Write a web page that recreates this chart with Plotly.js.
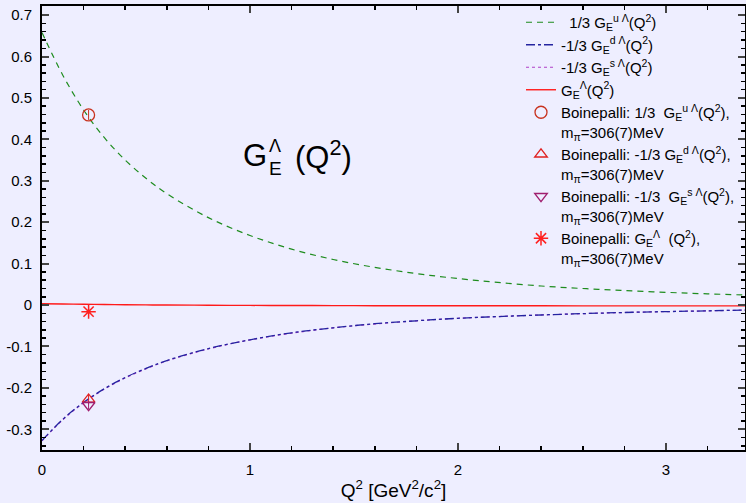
<!DOCTYPE html>
<html>
<head>
<meta charset="utf-8">
<script src="https://cdn.plot.ly/plotly-3.0.1.min.js"></script>
<style>html,body{margin:0;padding:0;background:#eeeeff;}#chart{width:746px;height:503px;}</style>
</head>
<body>
<div id="chart"></div>
<script>
// Q^2 grid [GeV^2/c^2]
var q2 = [0, 0.1, 0.2, 0.3, 0.4, 0.5, 0.6, 0.8, 1.0, 1.2, 1.4, 1.6, 1.8, 2.0, 2.4, 2.8, 3.2, 3.4];
// 1/3 G_E^{u Λ}
var gu = [0.658, 0.555, 0.471, 0.404, 0.350, 0.306, 0.269, 0.211, 0.168, 0.135, 0.110, 0.091, 0.076, 0.064, 0.046, 0.035, 0.027, 0.024];
// -1/3 G_E^{d Λ}
var gd = [-0.327, -0.276, -0.235, -0.202, -0.175, -0.153, -0.134, -0.105, -0.084, -0.067, -0.055, -0.045, -0.038, -0.032, -0.024, -0.018, -0.014, -0.012];
// -1/3 G_E^{s Λ}
var gs = [-0.328, -0.277, -0.236, -0.203, -0.176, -0.154, -0.135, -0.106, -0.084, -0.068, -0.055, -0.046, -0.038, -0.032, -0.024, -0.018, -0.014, -0.012];
// G_E^Λ
var gl = [0.0030, 0.0024, 0.0018, 0.0012, 0.0007, 0.0003, 0.0, -0.0005, -0.0009, -0.0012, -0.0014, -0.0016, -0.0017, -0.0018, -0.0019, -0.0020, -0.0020, -0.0020];

// Boinepalli lattice points (m_pi = 306(7) MeV)
var bq2 = [0.224];
var bU = [0.459], bUerr = [0.012];
var bD = [-0.228], bDerr = [0.012];
var bS = [-0.242], bSerr = [0.010];
var bL = [-0.016], bLerr = [0.012];

var yTicks = [-0.3, -0.2, -0.1, 0, 0.1, 0.2, 0.3, 0.4, 0.5, 0.6, 0.7];
var yTickText = ["-0.3", "-0.2", "-0.1", "0", "0.1", "0.2", "0.3", "0.4", "0.5", "0.6", "0.7"];
var xTicks = [0, 1, 2, 3];
var xTickText = ["0", "1", "2", "3"];

var nb = "\u00a0";
var names = [
  nb + nb + "1/3 G<sub>E</sub><sup>u Λ</sup>(Q<sup>2</sup>)",
  "-1/3 G<sub>E</sub><sup>d Λ</sup>(Q<sup>2</sup>)",
  "-1/3 G<sub>E</sub><sup>s Λ</sup>(Q<sup>2</sup>)",
  "G<sub>E</sub><sup>Λ</sup>(Q<sup>2</sup>)",
  "Boinepalli: 1/3" + nb + nb + "G<sub>E</sub><sup>u Λ</sup>(Q<sup>2</sup>),<br>m<sub>π</sub>=306(7)MeV",
  "Boinepalli: -1/3 G<sub>E</sub><sup>d Λ</sup>(Q<sup>2</sup>),<br>m<sub>π</sub>=306(7)MeV",
  "Boinepalli: -1/3" + nb + nb + "G<sub>E</sub><sup>s Λ</sup>(Q<sup>2</sup>),<br>m<sub>π</sub>=306(7)MeV",
  "Boinepalli: G<sub>E</sub><sup>Λ</sup>" + nb + nb + "(Q<sup>2</sup>),<br>m<sub>π</sub>=306(7)MeV"
];

var traces = [
  {x: q2, y: gu, mode: 'lines', name: names[0], legendrank: 1, line: {color: '#1e8c1e', width: 1.2, dash: '6px,5px', shape: 'spline'}},
  {x: q2, y: gs, mode: 'lines', name: names[2], legendrank: 3, line: {color: '#b040c8', width: 1.2, dash: 'dot', shape: 'spline'}},
  {x: q2, y: gd, mode: 'lines', name: names[1], legendrank: 2, line: {color: '#2424a0', width: 1.3, dash: 'dashdot', shape: 'spline'}},
  {x: q2, y: gl, mode: 'lines', name: names[3], legendrank: 4, line: {color: '#ff1a1a', width: 1.4, shape: 'spline'}},
  {x: bq2, y: bU, mode: 'markers', name: names[4], legendrank: 5, marker: {symbol: 'circle-open', size: 12, color: '#c8321e', line: {width: 1.3}},
   error_y: {type: 'data', array: bUerr, color: '#c8321e', thickness: 1, width: 0}},
  {x: bq2, y: bD, mode: 'markers', name: names[5], legendrank: 6, marker: {symbol: 'triangle-up-open', size: 11, color: '#e02020', line: {width: 1.3}},
   error_y: {type: 'data', array: bDerr, color: '#e02020', thickness: 1, width: 0}},
  {x: bq2, y: bS, mode: 'markers', name: names[6], legendrank: 7, marker: {symbol: 'triangle-down-open', size: 11, color: '#a01e6e', line: {width: 1.3}},
   error_y: {type: 'data', array: bSerr, color: '#a01e6e', thickness: 1, width: 0}},
  {x: bq2, y: bL, mode: 'markers', name: names[7], legendrank: 8, marker: {symbol: 'asterisk-open', size: 12, color: '#ff2020', line: {width: 1.5, color: '#ff2020'}},
   error_y: {type: 'data', array: bLerr, color: '#ff2020', thickness: 1, width: 0}}
];

var F = 'Liberation Sans, Arial, Helvetica, sans-serif';
var L = 42, R = 745, T = 6, B = 450;
function px(p) { return (p - L) / (R - L); }
function py(p) { return (B - p) / (B - T); }

var layout = {
  width: 746, height: 503,
  margin: {l: L, r: 746 - R, t: T, b: 503 - B},
  paper_bgcolor: '#eeeeff', plot_bgcolor: '#eeeeff',
  font: {family: F, size: 15, color: '#000'},
  showlegend: true,
  legend: {x: px(521), y: 1, xanchor: 'left', yanchor: 'top', bgcolor: 'rgba(0,0,0,0)', borderwidth: 0,
           font: {family: F, size: 15, color: '#000'}, valign: 'top', tracegroupgap: 0, traceorder: 'normal'},
  xaxis: {range: [0, 3.38], tickvals: xTicks, ticktext: xTickText, ticks: 'inside', ticklen: 7, tickwidth: 2,
          showline: true, linecolor: '#000', linewidth: 2, mirror: 'allticks', showgrid: false, zeroline: false,
          ticklabelstandoff: 5,
          minor: {dtick: 0.2, tick0: 0, ticks: 'inside', ticklen: 4, tickwidth: 1.5, tickcolor: '#000', showgrid: false},
          tickfont: {size: 15}, title: {text: 'Q<sup>2</sup> [GeV<sup>2</sup>/c<sup>2</sup>]', font: {size: 19}, standoff: 7}},
  yaxis: {range: [-0.35, 0.722], tickvals: yTicks, ticktext: yTickText, ticks: 'inside', ticklen: 7, tickwidth: 2,
          showline: true, linecolor: '#000', linewidth: 2, mirror: 'allticks', showgrid: false, zeroline: false,
          ticklabelstandoff: 5,
          minor: {dtick: 0.02, tick0: 0, ticks: 'inside', ticklen: 4, tickwidth: 1.5, tickcolor: '#000', showgrid: false},
          tickfont: {size: 15}},
  annotations: [
    {xref: 'paper', yref: 'paper', x: px(241), y: py(155), xanchor: 'left', yanchor: 'middle', showarrow: false, text: 'G', font: {family: F, size: 31}},
    {xref: 'paper', yref: 'paper', x: px(267), y: py(146), xanchor: 'left', yanchor: 'middle', showarrow: false, text: 'Λ', font: {family: F, size: 18}},
    {xref: 'paper', yref: 'paper', x: px(267), y: py(168), xanchor: 'left', yanchor: 'middle', showarrow: false, text: 'E', font: {family: F, size: 19}},
    {xref: 'paper', yref: 'paper', x: px(293), y: py(155), xanchor: 'left', yanchor: 'middle', showarrow: false, text: '(Q<sup>2</sup>)', font: {family: F, size: 31}}
  ]
};

Plotly.newPlot('chart', traces, layout, {displayModeBar: false, staticPlot: true});
</script>
</body>
</html>
